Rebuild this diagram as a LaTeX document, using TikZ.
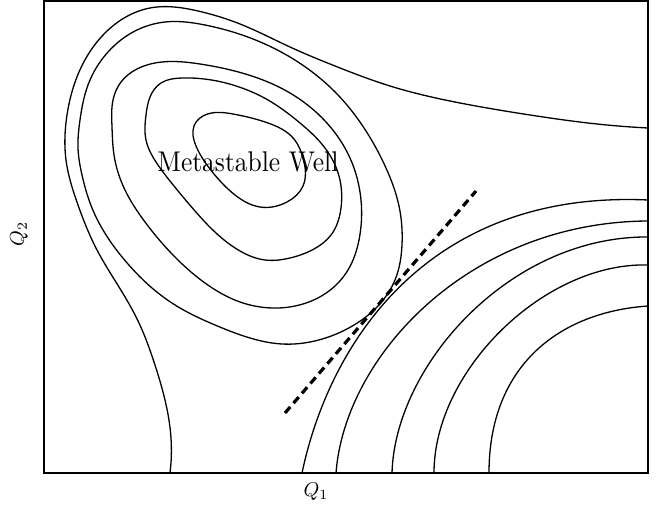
\documentclass[tikz,border=0pt]{standalone}
\usepackage{graphicx}
\usetikzlibrary{hobby}
\begin{document}
\begin{tikzpicture}[x=1pt,y=-1pt,
  contour/.style={line width=1.3pt, line join=round},
  frame/.style={line width=2.6pt},
  sep/.style={line width=3.2pt, dash pattern=on 8pt off 5pt}]
\useasboundingbox (0,0) rectangle (658,510);
% contours of the left (metastable) basin
\draw[contour] plot[hobby] coordinates {(170,473) (171,438) (165,400) (154,362) (139,323) (119,287) (97,250) (78,205) (66,160) (67,115) (79,72) (105,33) (150,8) (198,11) (240,24) (290,47) (335,66) (390,86) (460,103) (530,115) (597,124) (648,128)};
\draw[contour] plot[closed hobby] coordinates {(80,120) (88,85) (108,52) (135,31) (165,22) (205,25) (245,36) (298,62) (338,95) (366,131) (386,168) (399,206) (402,245) (395,280) (376,308) (345,330) (310,342) (282,344) (250,338) (215,325) (180,308) (152,288) (128,264) (108,238) (92,208) (82,175) (78,148)};
\draw[contour] plot[closed hobby] coordinates {(113,100) (121,82) (137,69) (162,62) (200,64) (242,73) (290,93) (326,122) (350,158) (361,200) (359,240) (348,270) (329,291) (303,304) (272,308) (240,302) (205,283) (172,254) (145,222) (125,190) (114,155) (112,127)};
\draw[contour] plot[closed hobby] coordinates {(146,140) (146,115) (150,97) (161,83) (182,78) (217,81) (242,88) (268,100) (300,123) (325,148) (339,176) (341,208) (331,235) (314,249) (290,258) (265,260) (240,251) (216,233) (195,211) (174,186) (156,162)};
\draw[contour] plot[closed hobby] coordinates {(196,146) (194,126) (203,116) (233,114) (268,123) (294,139) (303,158) (303,186) (287,202) (260,207) (235,195) (214,174)};
% contours of the right basin
\draw[contour] (302,473) .. controls (330,340) and (430,190) .. (648,200);
\draw[contour] (336,473) .. controls (345,355) and (470,222) .. (648,221);
\draw[contour] (392,473) .. controls (395,365) and (510,236) .. (648,237);
\draw[contour] (434,473) .. controls (434,370) and (545,262) .. (648,265);
\draw[contour] (489,473) .. controls (489,365) and (560,312) .. (648,306);
% separatrix
\coordinate (d1) at (285,413);
\coordinate (d2) at (476,191);
\draw[sep] (d1) -- (d2);
% frame
\draw[frame] (44,1) rectangle (648,473);
% labels
\node[inner sep=0pt] (mw) at (248,162) {\scalebox{2.55}[2.85]{Metastable Well}};
\node[inner sep=0pt] (q1) at (316,492) {\scalebox{2}{$Q_1$}};
\node[rotate=90, inner sep=0pt] (q2) at (19,234) {\scalebox{2}{$Q_2$}};
\end{tikzpicture}
\end{document}
